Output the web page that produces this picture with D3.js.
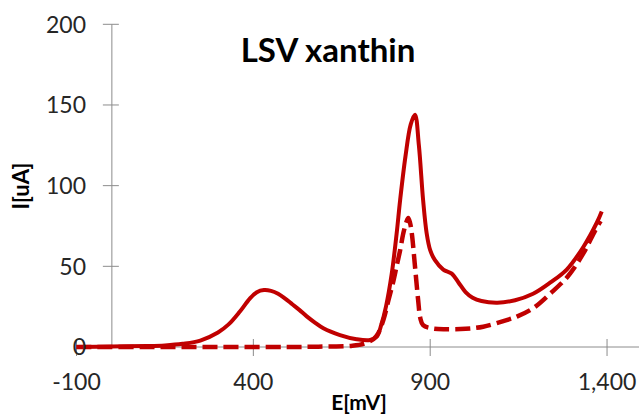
<!DOCTYPE html>
<html>
<head>
<meta charset="utf-8">
<script src="https://cdn.jsdelivr.net/npm/d3@7"></script>
<style>
  html, body { margin: 0; padding: 0; background: #fff; }
  svg { display: block; }
</style>
</head>
<body>
<svg id="chart" width="639" height="414"></svg>
<script>
// ---- data ----
const solidX = [-100, 0, 100, 150, 200, 250, 300, 330, 362, 390, 410, 430, 450, 470, 490, 510, 530, 551, 575, 598, 645, 692, 730, 749, 762, 775, 791, 805, 815, 830, 845, 857, 868, 880, 890, 900, 913, 937, 961, 980, 1000, 1020, 1045, 1090, 1140, 1191, 1240, 1286, 1333, 1371, 1385];
const solidY = [0, 0.3, 0.6, 1, 2, 4, 9, 14, 22, 30, 34, 35.3, 34.8, 33, 30, 26.5, 23, 19, 15, 11.6, 7.4, 4.8, 4.3, 6.4, 14, 25, 45, 70, 91, 118, 138, 144, 125, 91, 70.5, 60, 54, 48, 45.5, 40, 34, 30.5, 28.5, 27.5, 29, 33, 40, 48, 62, 77, 84];
const dashX = [-100, 100, 300, 500, 600, 680, 716, 740, 753, 768, 782, 795, 805, 815, 824, 832, 838, 843, 848, 857, 866, 872, 880, 904, 942, 1000, 1050, 1116, 1145, 1191, 1239, 1290, 1333, 1366, 1382];
const dashY = [0, 0, 0, 0, 0.3, 0.8, 2.3, 5, 8.5, 17, 29, 40, 50, 60, 70.5, 77, 80, 77, 70.5, 50, 29, 18, 13.5, 11.6, 11, 11.3, 12.6, 16.7, 18.8, 24, 33, 44, 58, 72, 78];
const xTicks = [-100, 400, 900, 1400];
const yTicks = [0, 50, 100, 150, 200];
const title = "LSV xanthin";
const xTitle = "E[mV]";
const yTitle = "I[uA]";

// ---- layout ----
const svg = d3.select("#chart");
const x = d3.scaleLinear().domain([-100, 1500]).range([76.5, 642.4]);
const y = d3.scaleLinear().domain([0, 200]).range([347, 24.3]);
const axisColor = "#8c8c8c";
const red = "#c00000";
const font = "Lato, 'Open Sans', sans-serif";
const fmt = d => d3.format(",")(d).replace("\u2212", "-");

// y axis (crosses at x = 0)
const yAxisG = svg.append("g").attr("transform", `translate(${x(0)},0)`);
yAxisG.append("line").attr("y1", y(200)).attr("y2", y(0)).attr("stroke", axisColor).attr("stroke-width", 1);
yAxisG.selectAll("line.tk").data(yTicks).join("line").attr("class", "tk")
  .attr("x1", -9).attr("x2", 7).attr("y1", d => y(d)).attr("y2", d => y(d))
  .attr("stroke", axisColor).attr("stroke-width", 1);

// x axis (at y = 0)
const xAxisG = svg.append("g").attr("transform", `translate(0,${y(0)})`);
xAxisG.append("line").attr("x1", x(-100)).attr("x2", 639).attr("stroke", axisColor).attr("stroke-width", 1);
xAxisG.selectAll("line.tk").data(xTicks).join("line").attr("class", "tk")
  .attr("x1", d => x(d)).attr("x2", d => x(d)).attr("y1", -8).attr("y2", 9)
  .attr("stroke", axisColor).attr("stroke-width", 1);

// curves
const line = d3.line().x(d => x(d[0])).y(d => y(d[1])).curve(d3.curveCatmullRom.alpha(0.5));
const solid = solidX.map((v, i) => [v, solidY[i]]);
const dashed = dashX.map((v, i) => [v, dashY[i]]);

svg.append("path").datum(solid).attr("d", line)
  .attr("fill", "none").attr("stroke", red).attr("stroke-width", 4).attr("stroke-linejoin", "round");
svg.append("path").datum(dashed).attr("d", line)
  .attr("fill", "none").attr("stroke", red).attr("stroke-width", 4.5)
  .attr("stroke-dasharray", "15,6").attr("stroke-linejoin", "round");

// tick labels
svg.append("g").selectAll("text").data(yTicks).join("text")
  .attr("x", 86).attr("y", d => y(d)).attr("dy", "0.36em")
  .attr("text-anchor", "end").attr("font-family", font).attr("font-size", 23).attr("fill", "#262626")
  .text(fmt);
svg.append("g").selectAll("text").data(xTicks).join("text")
  .attr("x", d => x(d)).attr("y", 390)
  .attr("text-anchor", "middle").attr("font-family", font).attr("font-size", 23).attr("fill", "#262626")
  .text(fmt);

// titles
svg.append("text").attr("x", 328).attr("y", 61.5).attr("text-anchor", "middle")
  .attr("font-family", font).attr("font-weight", "bold").attr("font-size", 33).attr("fill", "#000")
  .text(title);
svg.append("text").attr("x", 359).attr("y", 409.5).attr("text-anchor", "middle")
  .attr("font-family", font).attr("font-weight", "bold").attr("font-size", 21).attr("fill", "#000")
  .text(xTitle);
svg.append("text").attr("transform", "translate(28.5,186) rotate(-90)").attr("text-anchor", "middle")
  .attr("font-family", font).attr("font-weight", "bold").attr("font-size", 22).attr("fill", "#000")
  .text(yTitle);
</script>
</body>
</html>
